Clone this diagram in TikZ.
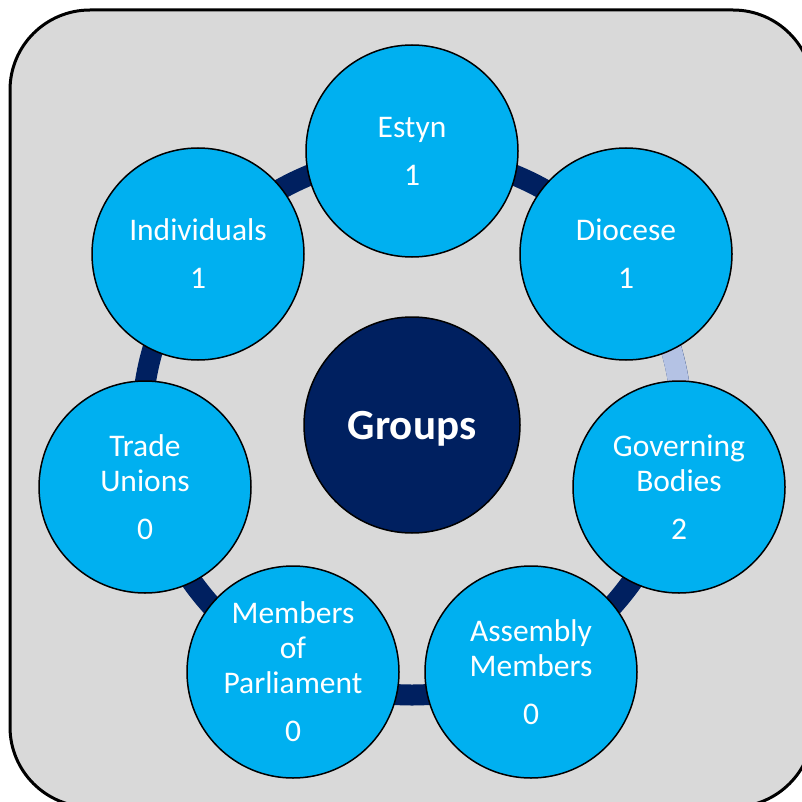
\documentclass[tikz,border=0pt]{standalone}
\usepackage{fontspec}
\setmainfont{Carlito}
\usepackage{tikz}
\usetikzlibrary{positioning}
\definecolor{panelgray}{HTML}{D9D9D9}
\definecolor{bubbleblue}{HTML}{00B0F0}
\definecolor{ringnavy}{HTML}{002060}
\definecolor{ringpale}{HTML}{B4C2E4}
\tikzset{
  bubble/.style={circle, draw=black, line width=1.5pt, fill=bubbleblue, minimum size=212pt,
    inner sep=0pt, text=white, align=center, font=\fontsize{31.5}{35}\selectfont},
  hub/.style={circle, draw=black, line width=1.5pt, fill=ringnavy, minimum size=216pt,
    inner sep=0pt, text=white, text depth=0pt, font=\fontsize{43}{48}\selectfont\bfseries},
  ring/.style={line width=21pt, draw=ringnavy}
}

\begin{document}
\begin{tikzpicture}[x=1pt, y=-1pt]

  \newcommand\Gap{13pt};

  \useasboundingbox (0,0) rectangle (802,802);
  \clip (0,0) rectangle (802,802);

  % backdrop
  \draw[line width=3pt, fill=panelgray, rounded corners=80pt] (10,10) rectangle (813,807);

  % ring behind the bubbles
  \coordinate (mid) at (412,425);
  \draw[ring] (mid) circle (270pt);
  \draw[ring, draw=ringpale] ([shift={(38.57:270pt)}]mid) arc[start angle=38.57, end angle=-12.86, radius=270pt];

  \node[hub] (groups) at (mid) {Groups};

  \node[bubble] (estyn)    at (412,151) {Estyn\\[\Gap]1};
  \node[bubble] (diocese)  at (626,254) {Diocese\\[\Gap]1};
  \node[bubble] (governing) at (679,487) {Governing\\Bodies\\[\Gap]2};
  \node[bubble] (assembly) at (531,672) {Assembly\\Members\\[\Gap]0};
  \node[bubble] (mps)      at (293,672) {Members\\of\\Parliament\\[\Gap]0};
  \node[bubble] (unions)   at (145,487) {Trade\\Unions\\[\Gap]0};
  \node[bubble] (people)   at (198,254) {Individuals\\[\Gap]1};

\end{tikzpicture}
\end{document}
